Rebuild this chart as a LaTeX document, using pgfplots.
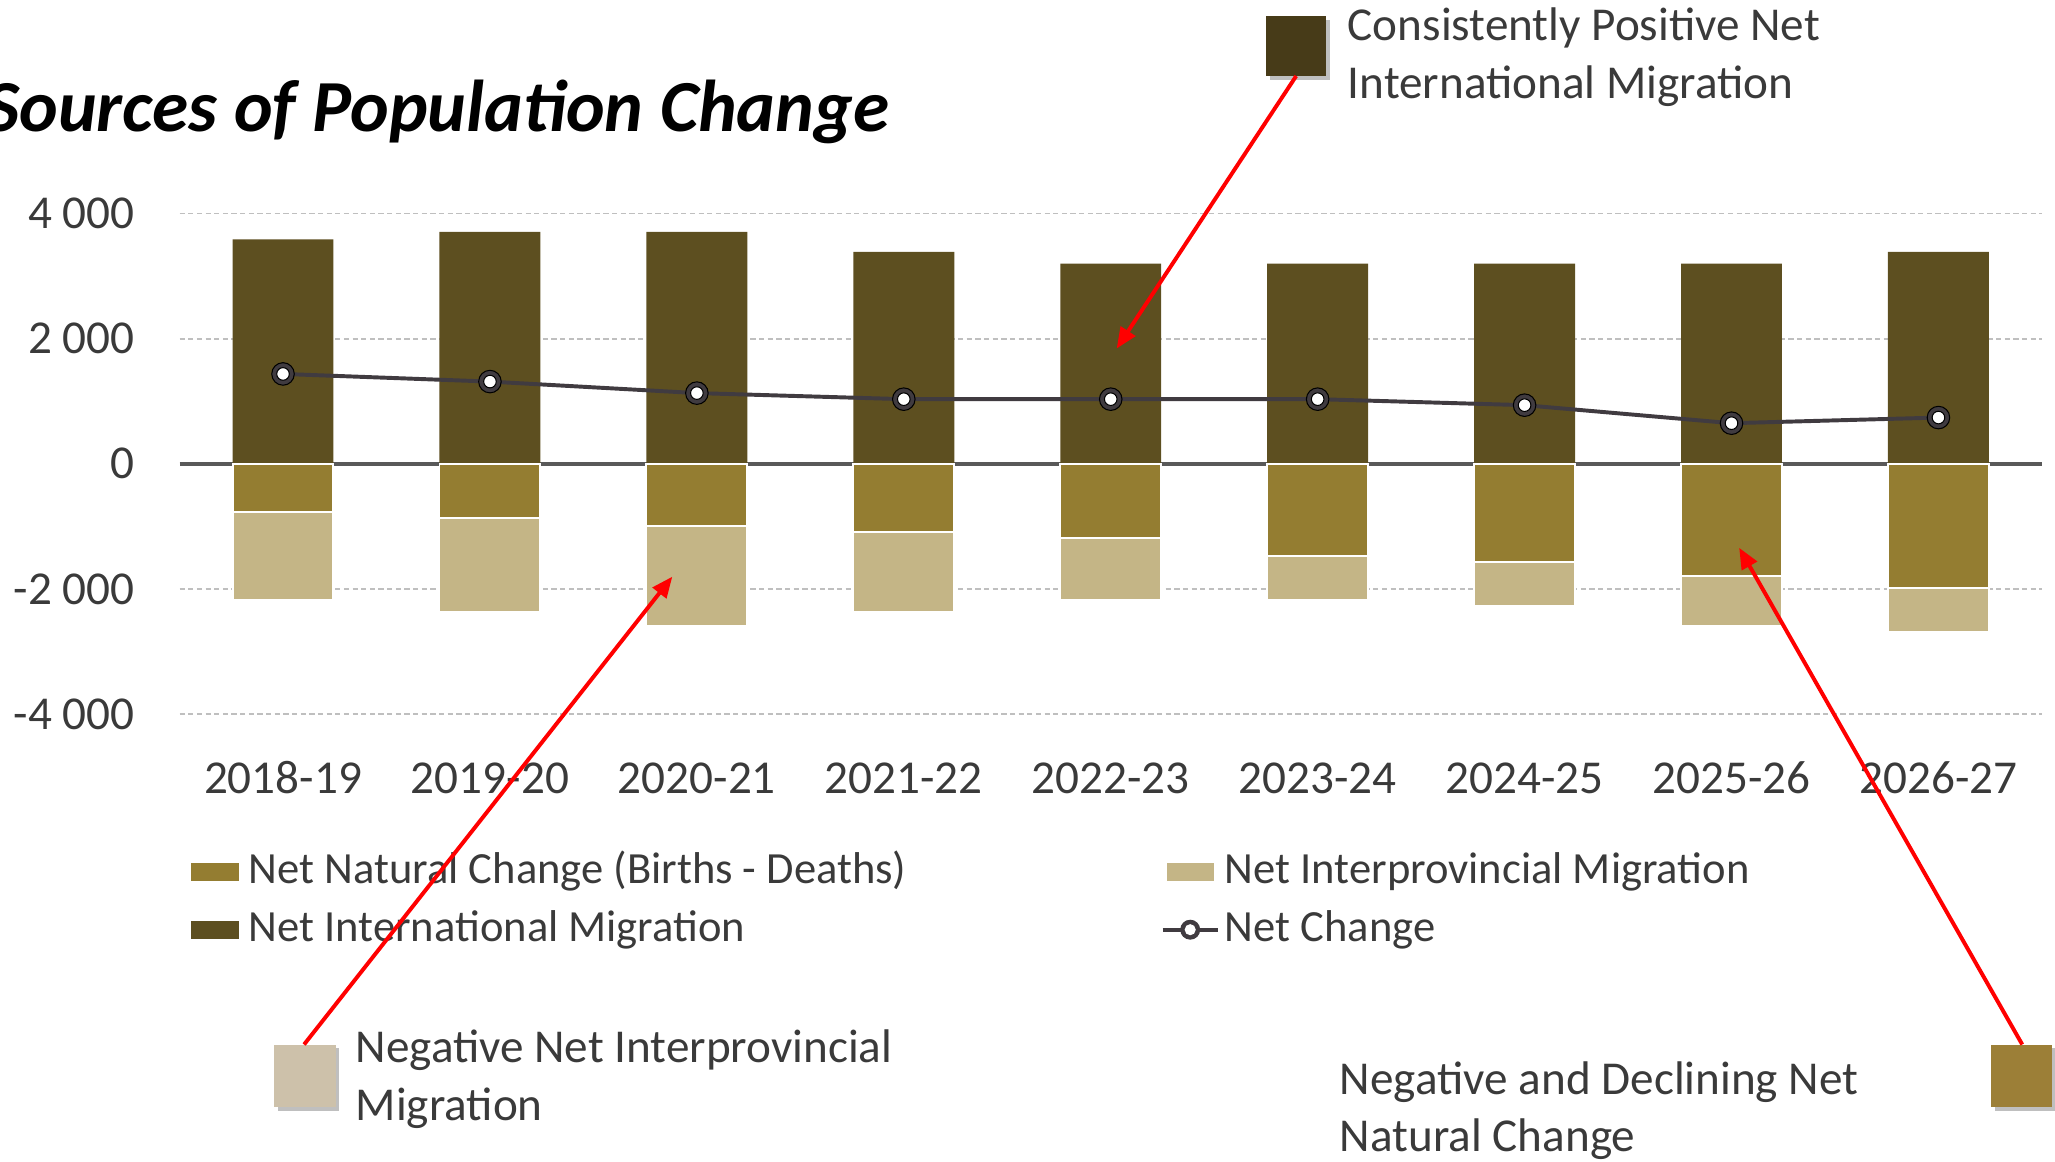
\documentclass[border=0pt]{standalone}
\usepackage{pgfplots}
\pgfplotsset{compat=1.18}
\usepackage{fontspec}
\setmainfont{Carlito}
\usetikzlibrary{arrows.meta}

\definecolor{intl}{HTML}{5D4F20}
\definecolor{natural}{HTML}{947D31}
\definecolor{interprov}{HTML}{C4B586}
\definecolor{netc}{HTML}{403B40}
\definecolor{zeroc}{HTML}{595959}
\definecolor{gridc}{HTML}{BFBFBF}
\definecolor{txt}{HTML}{3A3A3A}
\definecolor{boxa}{HTML}{473B18}
\definecolor{boxb}{HTML}{CDC1AA}
\definecolor{boxc}{HTML}{9C7F37}

\pgfplotsset{
  swatch/.style={legend image code/.code={
      \path (0pt,0pt) (21pt,0pt);
      \fill[##1, draw=none] (1.5pt,-3.5pt) rectangle (19.5pt,3.5pt);}},
  netleg/.style={legend image code/.code={
      \draw[netc, line width=1.5pt] (0pt,0pt) -- (21pt,0pt);
      \fill[netc] (10.5pt,0pt) circle[radius=3.6pt];
      \fill[white] (10.5pt,0pt) circle[radius=1.9pt];}},
  frame/.style={at={(68.5pt,170.5pt)}, anchor=south west,
    scale only axis, width=710.5pt, height=191pt,
    xmin=-0.5, xmax=8.5, ymin=-4000, ymax=4000},
}

\pgfplotstableread{
x  net
0  1438
1  1316
2  1132
3  1035
4  1035
5  1035
6  939
7  651
8  741
}\netdata

\begin{document}
\begin{tikzpicture}
\useasboundingbox (0,0) rectangle (784pt,443pt);
\clip (0,0) rectangle (784pt,443pt);

\begin{axis}[frame,
  ybar stacked, bar width=38.5pt,
  xtick={0,1,2,3,4,5,6,7,8},
  xticklabels={2018-19,2019-20,2020-21,2021-22,2022-23,2023-24,2024-25,2025-26,2026-27},
  ytick={-4000,-2000,0,2000,4000},
  yticklabels={-4 000,-2 000,0,2 000,4 000},
  axis line style={draw=none}, major tick length=0pt,
  ymajorgrids,
  grid style={dash pattern=on 2pt off 1.3pt, gridc, line width=0.6pt},
  tick label style={font=\fontsize{18}{20}\selectfont, text=txt, inner sep=0pt},
  xticklabel style={anchor=base, yshift=-30.25pt},
  yticklabel style={anchor=base east, xshift=-17pt, yshift=-5.7pt},
  legend columns=2, legend cell align=left,
  legend style={at={(axis description cs:0.0035,-0.2696)}, anchor=north west,
    draw=none, fill=none, inner sep=0pt, column sep=0pt, row sep=5pt,
    font=\fontsize{17}{19}\selectfont, text=txt,
    nodes={inner sep=0pt, inner xsep=2pt, text height=13pt, text depth=4pt},
    /tikz/every even column/.append style={column sep=95pt}},
]
% Net natural change (births - deaths)
\addplot[fill=natural, draw=white, line width=0.75pt, swatch]
  coordinates {(0,-765) (1,-863) (2,-998) (3,-1083) (4,-1184) (5,-1472) (6,-1568) (7,-1797) (8,-1984)};
% Net interprovincial migration
\addplot[fill=interprov, draw=white, line width=0.75pt, swatch]
  coordinates {(0,-1408) (1,-1505) (2,-1585) (3,-1280) (4,-987) (5,-699) (6,-699) (7,-790) (8,-699)};
% Net international migration
\addplot[stack plots=false, fill=intl, draw=none, swatch]
  coordinates {(0,3590) (1,3710) (2,3710) (3,3390) (4,3200) (5,3200) (6,3200) (7,3200) (8,3390)};
\draw[zeroc, line width=1.3pt] (axis cs:-0.5,0) -- (axis cs:8.5,0);
\addlegendimage{netleg}
\legend{Net Natural Change (Births - Deaths), Net Interprovincial Migration,
  Net International Migration, Net Change}
\end{axis}

% net change line, on its own overlaid axis
\begin{axis}[frame, hide axis, clip=false]
\addplot[sharp plot, draw=netc, line width=1.5pt, mark=none] table[x=x, y=net] {\netdata};
\addplot[only marks, mark=*, mark size=4.3pt, mark options={fill=netc, draw=none}]
  table[x=x, y=net] {\netdata};
\addplot[only marks, mark=*, mark size=2.4pt, mark options={fill=white, draw=none}]
  table[x=x, y=net] {\netdata};
\end{axis}

\begin{scope}[x=0.5pt, y=0.5pt]
% title
\node[anchor=base east, inner sep=0pt, font=\fontsize{28}{30}\selectfont\bfseries\itshape]
  at (679,786) {Sources of Population Change};

% callout boxes
\fill[black, opacity=0.25] (969,825) rectangle (1015,871);
\fill[boxa] (966,828) rectangle (1012,874);
\fill[black, opacity=0.25] (212,38) rectangle (259,86);
\fill[boxb] (209,41) rectangle (256,89);
\fill[black, opacity=0.25] (1522,38) rectangle (1569,86);
\fill[boxc] (1519,41) rectangle (1566,89);

\begin{scope}[every node/.style={anchor=base west, inner sep=0pt, text=txt,
    font=\fontsize{18}{20}\selectfont}]
\node at (1028,855) {Consistently Positive Net};
\node at (1028,811) {International Migration};
\node at (271,75) {Negative Net Interprovincial};
\node at (271,31) {Migration};
\node at (1022,51) {Negative and Declining Net};
\node at (1022,7) {Natural Change};
\end{scope}

% red arrows
\begin{scope}[red, line width=1.5pt, -{Triangle[length=8pt, width=6.5pt]}]
\draw (989,828) -- (852,620);
\draw (232,89) -- (513,446);
\draw (1543,89) -- (1327,468);
\end{scope}
\end{scope}
\end{tikzpicture}
\end{document}
